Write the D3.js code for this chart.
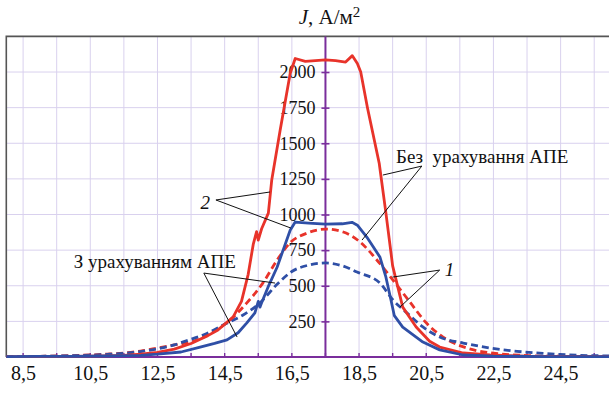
<!DOCTYPE html>
<html>
<head>
<meta charset="UTF-8">
<script src="https://cdn.jsdelivr.net/npm/d3@7"></script>
<style>
    body{ margin:0; background:#fff; }
    svg text{ font-family: "Liberation Serif", "Times New Roman", Tinos, serif !important; }
    .grid line{ stroke:#d9d1ee; stroke-width:1; }
    .yAxis path{ stroke:none; }
    .yAxis .tick line{ stroke:#7a2e9c; stroke-width:1.6; }
    .xAxis path{ stroke:none; }
    .lead{ stroke:#111; stroke-width:1; fill:none; }
</style>
</head>
<body>
<svg id="main" width="609" height="395"></svg>
<script>
    const width = 609, height = 395;
    const serif = "Liberation Serif";

    // x ticks / labels
    const xLabels = [8.5, 10.5, 12.5, 14.5, 16.5, 18.5, 20.5, 22.5, 24.5];
    const xGrid = [8.5, 9.5, 10.5, 11.5, 12.5, 13.5, 14.5, 15.5, 16.5, 17.5, 18.5, 19.5, 20.5, 21.5, 22.5, 23.5, 24.5, 25.5];
    const yTicks = [250, 500, 750, 1000, 1250, 1500, 1750, 2000];

    // curve 2, без урахування АПЕ (red solid)
    const redSolidX = [8.0, 9.0, 10.0, 11.0, 11.5, 12.0, 12.5, 13.0, 13.5, 14.0, 14.3, 14.75, 15.0, 15.2, 15.35, 15.45, 15.5, 15.6, 15.8, 15.9, 16.15, 16.45, 16.6, 16.9, 17.2, 17.5, 17.8, 18.1, 18.3, 18.45, 18.55, 18.75, 19.1, 19.3, 19.5, 19.8, 20.2, 20.6, 20.9, 21.6, 22.4, 23.5, 25.94];
    const redSolidY = [2, 3, 5, 8, 12, 20, 32, 55, 95, 150, 190, 280, 390, 580, 790, 880, 820, 900, 1010, 1240, 1590, 1990, 2095, 2075, 2080, 2085, 2080, 2070, 2115, 2060, 2000, 1750, 1360, 1010, 640, 350, 210, 110, 70, 28, 14, 6, 2];

    // curve 1, без урахування АПЕ (blue solid)
    const blueSolidX = [8.0, 9.0, 10.0, 11.0, 12.0, 12.5, 13.2, 13.77, 14.2, 14.57, 14.9, 15.16, 15.4, 15.5, 15.55, 15.6, 15.79, 16.06, 16.45, 16.6, 17.0, 17.5, 18.0, 18.29, 18.45, 18.73, 19.12, 19.3, 19.45, 19.55, 19.8, 20.0, 20.4, 20.9, 21.6, 22.5, 24.0, 25.94];
    const blueSolidY = [3, 4, 5, 7, 12, 20, 35, 70, 95, 120, 170, 240, 310, 390, 350, 380, 490, 630, 890, 947, 940, 933, 935, 945, 925, 842, 702, 560, 400, 290, 210, 175, 105, 50, 14, 6, 3, 2];

    // curve 2, з урахуванням АПЕ (red dashed)
    const redDashX = [8.0, 9.0, 10.0, 11.0, 11.5, 12.0, 12.5, 13.0, 13.56, 14.16, 14.66, 15.16, 15.64, 16.06, 16.44, 16.96, 17.5, 18.03, 18.53, 19.03, 19.51, 20.0, 20.5, 21.0, 21.5, 22.0, 22.5, 23.5, 24.5, 25.94];
    const redDashY = [3, 5, 10, 20, 28, 42, 63, 85, 110, 175, 260, 380, 520, 680, 800, 870, 898, 877, 807, 681, 540, 390, 240, 140, 80, 45, 27, 10, 5, 3];

    // curve 1, з урахуванням АПЕ (blue dashed)
    const blueDashX = [8.0, 9.0, 10.0, 11.0, 12.0, 12.5, 13.0, 13.38, 13.97, 14.5, 15.05, 15.55, 16.06, 16.5, 17.0, 17.5, 18.0, 18.44, 19.12, 19.51, 19.93, 20.4, 20.9, 21.6, 22.4, 23.2, 24.0, 25.0, 25.94];
    const blueDashY = [3, 5, 9, 18, 38, 58, 85, 115, 165, 230, 295, 380, 510, 600, 645, 660, 640, 596, 519, 400, 309, 211, 140, 98, 63, 40, 25, 12, 8];

    const red = "#e8332a", blue = "#2f4fa6";

    const xScale = d3.scaleLinear().domain([8.0, 25.94]).range([6.3, 609]);
    const yScale = d3.scaleLinear().domain([0, 2250]).range([357, 36.4]);

    const svg = d3.select("svg#main");

    // grid
    const grid = svg.append("g").attr("class", "grid");
    grid.selectAll(".v").data(xGrid).join("line").attr("class", "v")
        .attr("x1", d => xScale(d)).attr("x2", d => xScale(d))
        .attr("y1", yScale(2250)).attr("y2", yScale(0));
    grid.selectAll(".h").data(yTicks).join("line").attr("class", "h")
        .attr("x1", xScale(8)).attr("x2", width)
        .attr("y1", d => yScale(d)).attr("y2", d => yScale(d));

    // frame (left + top)
    svg.append("path")
        .attr("d", `M${xScale(8)},${yScale(0)}V${yScale(2250)}H${width}`)
        .attr("fill", "none").attr("stroke", "#555").attr("stroke-width", 1.6);

    // x axis labels
    const xAxisGroup = svg.append("g").attr("class", "xAxis")
        .attr("transform", `translate(0,${yScale(0)})`)
        .call(d3.axisBottom(xScale).tickValues(xLabels).tickSize(0).tickPadding(9)
            .tickFormat(d => d3.format(".1f")(d).replace(".", ",")));
    xAxisGroup.attr("font-family", serif).attr("font-size", 20);
    xAxisGroup.selectAll("text").attr("fill", "#111").attr("font-family", serif);

    // y axis on the 17.5 line
    const yAxisGroup = svg.append("g").attr("class", "yAxis")
        .attr("transform", `translate(${xScale(17.5)},0)`)
        .call(d3.axisLeft(yScale).tickValues(yTicks).tickSizeInner(4).tickSizeOuter(0).tickPadding(6)
            .tickFormat(d3.format("d")));
    yAxisGroup.attr("font-family", serif).attr("font-size", 18);
    yAxisGroup.selectAll(".tick line").attr("x1", 4).attr("x2", -4);
    yAxisGroup.selectAll("text").attr("fill", "#111").attr("font-family", serif);

    // purple axis lines
    svg.append("line")
        .attr("x1", xScale(17.5)).attr("x2", xScale(17.5))
        .attr("y1", yScale(2250)).attr("y2", yScale(0))
        .attr("stroke", "#7a2e9c").attr("stroke-width", 2);
    svg.append("line")
        .attr("x1", xScale(8)).attr("x2", width)
        .attr("y1", yScale(0)).attr("y2", yScale(0))
        .attr("stroke", "#7a2e9c").attr("stroke-width", 2);
    svg.append("g").selectAll("line").data(xGrid).join("line")
        .attr("x1", d => xScale(d)).attr("x2", d => xScale(d))
        .attr("y1", yScale(0) - 4).attr("y2", yScale(0) + 1)
        .attr("stroke", "#7a2e9c").attr("stroke-width", 1.4);

    // title
    const title = svg.append("text")
        .attr("x", xScale(17.5) + 4).attr("y", 24)
        .attr("text-anchor", "middle").attr("fill", "#111")
        .attr("font-family", serif).attr("font-size", 21);
    title.append("tspan").attr("font-style", "italic").text("J");
    title.append("tspan").text(", А/м");
    title.append("tspan").attr("dy", -7).attr("font-size", 15).text("2");

    // curves
    const line = d3.line()
        .x(d => xScale(d[0]))
        .y(d => yScale(d[1]));
    const smooth = d3.line()
        .x(d => xScale(d[0]))
        .y(d => yScale(d[1]))
        .curve(d3.curveMonotoneX);

    const series = [
        {x: redDashX, y: redDashY, color: red, dash: "7,4", gen: smooth},
        {x: blueDashX, y: blueDashY, color: blue, dash: "7,4", gen: smooth},
        {x: redSolidX, y: redSolidY, color: red, dash: null, gen: line},
        {x: blueSolidX, y: blueSolidY, color: blue, dash: null, gen: line}
    ];
    svg.append("g").selectAll("path").data(series).join("path")
        .attr("d", s => s.gen(s.x.map((v, i) => [v, s.y[i]])))
        .attr("fill", "none")
        .attr("stroke", s => s.color)
        .attr("stroke-width", 2.8)
        .attr("stroke-linejoin", "round")
        .attr("stroke-dasharray", s => s.dash);

    // annotations (data coordinates)
    const notes = [
        {text: "2", italic: true, at: [13.78, 1040], from: [14.24, 1102], to: [[15.85, 1158], [16.47, 905]]},
        {text: "Без  урахування АПЕ", italic: false, at: [19.6, 1360], from: [20.37, 1340], to: [[19.21, 1277], [18.59, 821]]},
        {text: "З урахуванням АПЕ", italic: false, at: [10.01, 625], from: [13.88, 589], to: [[16.0, 519], [14.87, 140]]},
        {text: "1", italic: true, at: [21.05, 570], from: [20.9, 610], to: [[19.5, 561], [19.72, 351]]}
    ];
    const ann = svg.append("g").attr("font-family", serif).attr("font-size", 19);
    notes.forEach(n => {
        n.to.forEach(t => {
            ann.append("line").attr("class", "lead")
                .attr("x1", xScale(n.from[0])).attr("y1", yScale(n.from[1]))
                .attr("x2", xScale(t[0])).attr("y2", yScale(t[1]));
        });
        ann.append("text")
            .attr("x", xScale(n.at[0])).attr("y", yScale(n.at[1]))
            .attr("fill", "#111")
            .attr("font-family", serif)
            .attr("font-style", n.italic ? "italic" : "normal")
            .style("white-space", "pre")
            .text(n.text);
    });
</script>
</body>
</html>
